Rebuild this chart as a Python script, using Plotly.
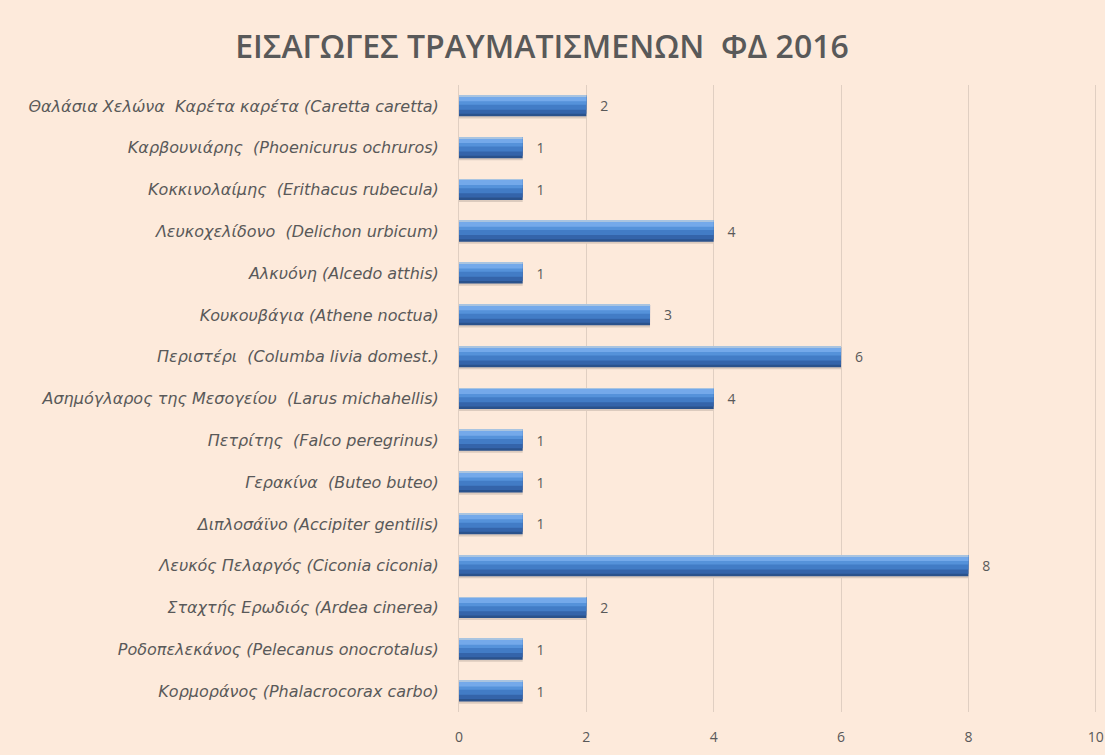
import plotly.graph_objects as go

title_text = "ΕΙΣΑΓΩΓΕΣ ΤΡΑΥΜΑΤΙΣΜΕΝΩΝ  ΦΔ 2016"

species = [
    "Θαλάσια Χελώνα  Καρέτα καρέτα (Caretta caretta)",
    "Καρβουνιάρης  (Phoenicurus ochruros)",
    "Κοκκινολαίμης  (Erithacus rubecula)",
    "Λευκοχελίδονο  (Delichon urbicum)",
    "Αλκυόνη (Alcedo atthis)",
    "Κουκουβάγια (Athene noctua)",
    "Περιστέρι  (Columba livia domest.)",
    "Ασημόγλαρος της Μεσογείου  (Larus michahellis)",
    "Πετρίτης  (Falco peregrinus)",
    "Γερακίνα  (Buteo buteo)",
    "Διπλοσάϊνο (Accipiter gentilis)",
    "Λευκός Πελαργός (Ciconia ciconia)",
    "Σταχτής Ερωδιός (Ardea cinerea)",
    "Ροδοπελεκάνος (Pelecanus onocrotalus)",
    "Κορμοράνος (Phalacrocorax carbo)",
]
counts = [2, 1, 1, 4, 1, 3, 6, 4, 1, 1, 1, 8, 2, 1, 1]

x_ticks = [0, 2, 4, 6, 8, 10]

BG = "#FDEADB"
TXT = "#595959"

fig = go.Figure()
# soft shadow under each bar
fig.add_trace(go.Bar(
    y=species, x=counts, orientation="h",
    width=0.5, offset=-0.2,
    marker=dict(color="#DCCBBE", line=dict(width=0)),
    hoverinfo="skip",
))
# layers to mimic the shaded 3D bar: (offset, width, colour)
layers = [
    (-0.25, 0.50, "#2A528C"),
    (-0.25, 0.44, "#3464AA"),
    (-0.25, 0.34, "#427CC6"),
    (-0.25, 0.22, "#5592DA"),
    (-0.24, 0.13, "#74A9EA"),
    (-0.25, 0.02, "#A9C4E0"),
]
for i, (off, w, col) in enumerate(layers):
    kw = {}
    if i == 0:
        kw = dict(text=counts, texttemplate="   %{x}", textposition="outside",
                  textfont=dict(family="Open Sans", size=14, color=TXT),
                  cliponaxis=False)
    fig.add_trace(go.Bar(
        y=species, x=counts, orientation="h",
        width=w, offset=off,
        marker=dict(color=col, line=dict(width=0)),
        hoverinfo="skip", **kw,
    ))

fig.update_layout(
    width=1105, height=755,
    paper_bgcolor=BG, plot_bgcolor=BG,
    barmode="overlay", showlegend=False,
    margin=dict(l=459, r=8, t=85, b=43, autoexpand=False),
    title=dict(text=title_text, x=0.4905, xanchor="center", y=0.938, yanchor="middle",
               font=dict(family="Open Sans", size=32, color=TXT, weight=600)),
    xaxis=dict(range=[0, 10.02], tickvals=x_ticks, showgrid=True,
               gridcolor="#E0CFC2", gridwidth=1, zeroline=False,
               ticks="outside", ticklen=12, tickcolor=BG,
               ticklabeloverflow="allow",
               tickfont=dict(family="Open Sans", size=14, color=TXT),
               showline=False),
    yaxis=dict(autorange="reversed", showgrid=False, ticks="outside", ticklen=16,
               tickcolor=BG,
               tickfont=dict(family="DejaVu Sans", size=16, color=TXT, style="italic"),
               showline=True, linecolor="#E0CFC2"),
)

fig.write_html(
    "out.html",
    config={"displayModeBar": False},
    post_script="document.body.style.margin='0';"
                "document.body.style.background='#FDEADB';"
                "document.body.style.overflow='hidden';",
)
